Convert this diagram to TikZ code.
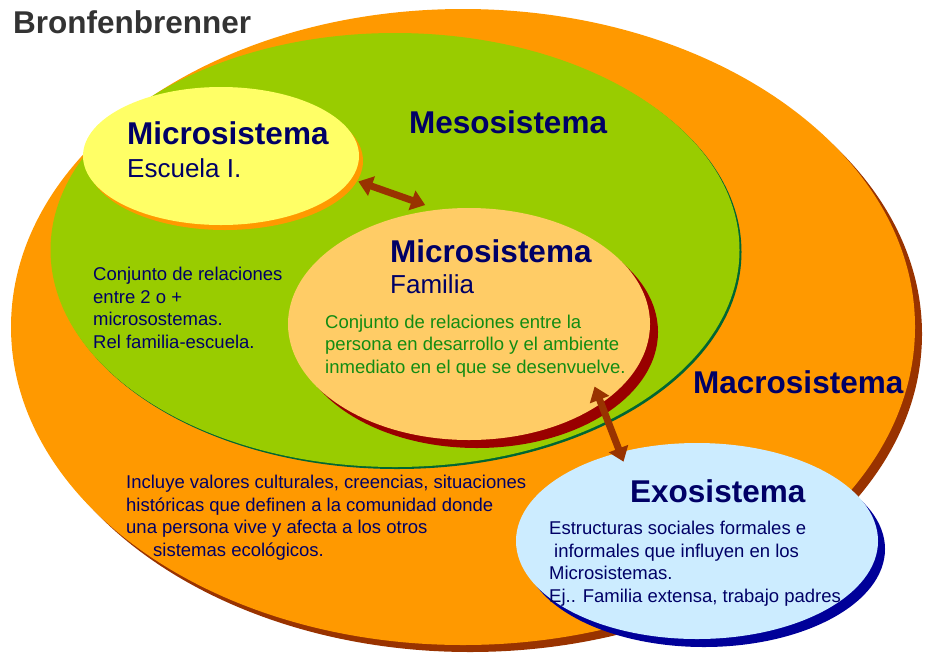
\documentclass[tikz,border=0pt]{standalone}
\usepackage{fontspec}
\setmainfont{Liberation Sans}
\usetikzlibrary{shapes.geometric,shadows,arrows.meta}

\definecolor{macrofill}{HTML}{FF9900}
\definecolor{macroshade}{HTML}{993300}
\definecolor{mesofill}{HTML}{99CC00}
\definecolor{mesoshade}{HTML}{006633}
\definecolor{escuelafill}{HTML}{FFFF66}
\definecolor{familiafill}{HTML}{FFCC66}
\definecolor{familiashade}{HTML}{990000}
\definecolor{exofill}{HTML}{CCECFF}
\definecolor{exoshade}{HTML}{000099}
\definecolor{navy}{HTML}{000066}
\definecolor{leafgreen}{HTML}{128C12}
\definecolor{titlegray}{HTML}{333333}

\begin{document}
\begin{tikzpicture}[x=1pt, y=-1pt,
    sphere/.style={ellipse, inner sep=0pt, outer sep=0pt},
    heading/.style={anchor=base west, inner sep=0pt, text=navy,
      font=\fontsize{31.5}{38}\selectfont\bfseries},
    subhead/.style={anchor=base west, inner sep=0pt, text=navy,
      font=\fontsize{26}{31}\selectfont},
    body/.style={anchor=base west, inner sep=0pt, align=left, text=navy,
      font=\fontsize{18.5}{22.4}\selectfont},
    link/.style={draw=macroshade, line width=7pt,
      {Triangle[width=20pt,length=14pt]}-{Triangle[width=20pt,length=14pt]}}]
  \useasboundingbox (0,0) rectangle (933,654);

  % the nested systems
  \node[sphere, fill=macrofill, minimum width=904pt, minimum height=636pt,
    drop shadow={shadow xshift=7pt, shadow yshift=-7pt, fill=macroshade, opacity=1}] (macro) at (463,327) {};
  \node[sphere, fill=mesofill, minimum width=689pt, minimum height=434pt,
    drop shadow={shadow xshift=2pt, shadow yshift=-2pt, fill=mesoshade, opacity=1}] (meso) at (395,250) {};
  \node[sphere, fill=escuelafill, minimum width=276pt, minimum height=138pt,
    drop shadow={shadow xshift=4pt, shadow yshift=-5pt, fill=macrofill, opacity=1}] (escuela) at (221,156) {};
  \node[sphere, fill=familiafill, minimum width=362pt, minimum height=232pt,
    drop shadow={shadow xshift=8pt, shadow yshift=-8pt, fill=familiashade, opacity=1}] (familia) at (469,324) {};
  \node[sphere, fill=exofill, minimum width=362pt, minimum height=196pt,
    drop shadow={shadow xshift=7pt, shadow yshift=-8pt, fill=exoshade, opacity=1}] (exo) at (697,541) {};

  \draw[link, shorten <=7.6pt, shorten >=14pt] (escuela.-10) -- (familia.105);
  \draw[link, shorten <=-18pt, shorten >=-10pt] (familia.-31) -- (exo.131);

  % labels (multi-line texts sit on their last baseline)
  \node[heading, text=titlegray] (titulo) at (13,33) {Bronfenbrenner};
  \node[heading] (mesoT) at (409,133) {Mesosistema};
  \node[heading] (escuelaT) at (127,144) {Microsistema};
  \node[subhead] (escuelaS) at (127,177) {Escuela I.};
  \node[heading] (familiaT) at (390,262) {Microsistema};
  \node[subhead] (familiaS) at (390,293) {Familia};
  \node[heading] (macroT) at (693,393) {Macrosistema};
  \node[heading] (exoT) at (630,502) {Exosistema};

  \node[body, text=leafgreen] (familiaD) at (325,373)
    {Conjunto de relaciones entre la\\persona en desarrollo y el ambiente\\inmediato en el que se desenvuelve.};
  \node[body] (mesoD) at (93,348)
    {Conjunto de relaciones\\entre 2 o +\\microsostemas.\\Rel familia-escuela.};
  \node[body] (macroD) at (126,556)
    {Incluye valores culturales, creencias, situaciones\\hist\'oricas que definen a la comunidad donde\\una persona vive y afecta a los otros\\\hspace*{27pt}sistemas ecol\'ogicos.};
  \node[body] (exoD) at (549,602)
    {Estructuras sociales formales e\\\hspace*{5pt}informales que influyen en los\\Microsistemas.\\Ej.. Familia extensa, trabajo padres};
\end{tikzpicture}
\end{document}
